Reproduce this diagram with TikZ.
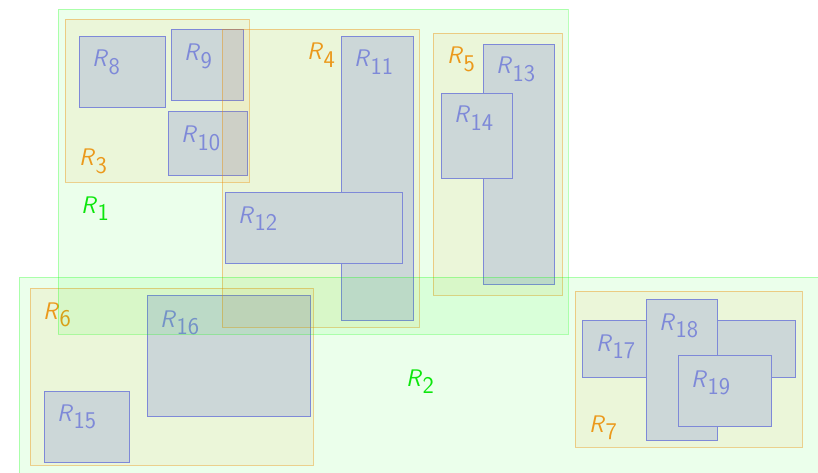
\documentclass[tikz,border=0pt]{standalone}
\usepackage{tikz}
\definecolor{lvgreen}{RGB}{0,255,0}
\definecolor{lvorange}{RGB}{255,128,0}
\definecolor{lvorangetext}{RGB}{255,140,20}
\definecolor{lvleaffill}{RGB}{220,220,255}
\definecolor{lvleafline}{RGB}{128,128,255}
\newcommand{\rlbl}[1]{\ensuremath{\textsf{\textit{R}}_{\textsf{#1}}}}
\tikzset{
  lvfont/.style={font=\fontsize{24}{28}\selectfont},
  levelone/.style={fill=lvgreen, fill opacity=0.08, draw=lvgreen, draw opacity=0.28, line width=0.8pt},
  leveltwo/.style={fill=lvorange, fill opacity=0.08, draw=lvorange, draw opacity=0.4, line width=0.8pt},
  leaf/.style={fill=lvleaffill, draw=lvleafline, line width=0.8pt},
  lblone/.style={lvfont, anchor=base west, inner sep=0pt, text=lvgreen!90!black, text opacity=0.95},
  lbltwo/.style={lvfont, anchor=base west, inner sep=0pt, text=lvorangetext, text opacity=0.95},
  lblleaf/.style={lvfont, anchor=base west, inner sep=0pt, text=lvleafline},
}
\begin{document}
\begin{tikzpicture}[x=1pt, y=-1pt]
\useasboundingbox (0,0) rectangle (818,473);
\clip (0,0) rectangle (818,473);

% leaf entries (opaque, drawn first)
\draw[leaf] (44,391) rectangle (129,462);
\node[lblleaf] (r15) at (57,421) {\rlbl{15}};
\draw[leaf] (147,295) rectangle (310,416);
\node[lblleaf] (r16) at (160,327) {\rlbl{16}};
\draw[leaf] (582,320) rectangle (795,377);
\node[lblleaf] (r17) at (596,351) {\rlbl{17}};
\draw[leaf] (646,299) rectangle (717,440);
\node[lblleaf] (r18) at (659,330) {\rlbl{18}};
\draw[leaf] (678,355) rectangle (771,426);
\node[lblleaf] (r19) at (691,387) {\rlbl{19}};

\draw[leaf] (79,36) rectangle (165,107);
\node[lblleaf] (r8) at (92,67) {\rlbl{8}};
\draw[leaf] (171,29) rectangle (243,100);
\node[lblleaf] (r9) at (184,61) {\rlbl{9}};
\draw[leaf] (168,111) rectangle (247,175);
\node[lblleaf] (r10) at (181,143) {\rlbl{10}};
\draw[leaf] (341,36) rectangle (413,320);
\node[lblleaf] (r11) at (354,67) {\rlbl{11}};
\draw[leaf] (225,192) rectangle (402,263);
\node[lblleaf] (r12) at (238,223) {\rlbl{12}};
\draw[leaf] (483,44) rectangle (554,284);
\node[lblleaf] (r13) at (496,74) {\rlbl{13}};
\draw[leaf] (441,93) rectangle (512,178);
\node[lblleaf] (r14) at (454,123) {\rlbl{14}};

% intermediate entries
\draw[leveltwo] (65,19) rectangle (249,182);
\node[lbltwo] (r3) at (79,166) {\rlbl{3}};
\draw[leveltwo] (222,29) rectangle (419,327);
\node[lbltwo] (r4) at (307,60) {\rlbl{4}};
\draw[leveltwo] (433,33) rectangle (562,295);
\node[lbltwo] (r5) at (447,64) {\rlbl{5}};
\draw[leveltwo] (30,288) rectangle (313,465);
\node[lbltwo] (r6) at (43,319) {\rlbl{6}};
\draw[leveltwo] (575,291) rectangle (802,447);
\node[lbltwo] (r7) at (589,432) {\rlbl{7}};

% root entries
\draw[levelone] (58,9) rectangle (568,334);
\node[lblone] (r1) at (81,213) {\rlbl{1}};
\draw[levelone] (19,277) rectangle (830,490);
\node[lblone] (r2) at (406,386) {\rlbl{2}};
\end{tikzpicture}
\end{document}
